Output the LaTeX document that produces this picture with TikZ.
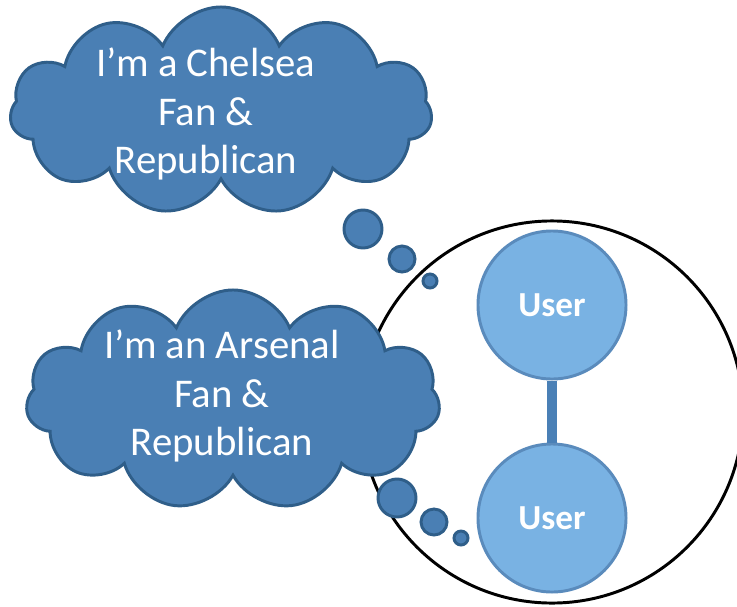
\documentclass[tikz,border=0pt]{standalone}
\usepackage{fontspec}
\setmainfont{Carlito}
\usetikzlibrary{shapes.symbols}
\definecolor{cloudfill}{HTML}{4A7FB4}
\definecolor{cloudline}{HTML}{2F5E89}
\definecolor{userfill}{HTML}{79B2E3}
\definecolor{userline}{HTML}{5A8BBC}
\definecolor{linkblue}{HTML}{4A80B6}

\begin{document}
\begin{tikzpicture}[
  x=0.025cm, y=-0.025cm,
  thought/.style={cloud, cloud puffs=11, cloud puff arc=135, aspect=2,
    draw=cloudline, fill=cloudfill, line width=2.1pt, inner sep=0pt},
  words/.style={text=white, align=center, inner sep=0pt,
    font=\fontsize{29}{34.5}\selectfont},
  bubble/.style={circle, draw=cloudline, fill=cloudfill, line width=2.1pt,
    inner sep=0pt},
  user/.style={circle, draw=userline, fill=userfill, line width=2.1pt,
    minimum size=3.7cm, inner sep=0pt, text=white,
    font=\fontsize{25}{30}\selectfont\bfseries},
  link/.style={draw=linkblue, line width=7pt}
]
\useasboundingbox (0,0) rectangle (737,606);

% group of users
\node[circle, draw=black, line width=2.1pt, minimum size=9.55cm, inner sep=0pt]
  (group) at (552,412) {};
\node[user] (u1) at (552,305) {User};
\node[user] (u2) at (552,518) {User};
\draw[link] (u1) -- (u2);

% thoughts
\node[thought, minimum width=10.55cm, minimum height=5.2cm] (chelsea) at (221,111) {};
\node[words] (chelseatext) at (206,114) {I’m a Chelsea\\Fan \&\\Republican};
\node[thought, minimum width=10.35cm, minimum height=5.5cm] (arsenal) at (233,400) {};
\node[words] (arsenaltext) at (222,396) {I’m an Arsenal\\Fan \&\\Republican};

% bubbles for the top thought
\node[bubble, minimum size=0.95cm] (b1) at (363,229) {};
\node[bubble, minimum size=0.65cm] (b2) at (402,259) {};
\node[bubble, minimum size=0.35cm] (b3) at (430,281) {};

% bubbles for the lower thought
\node[bubble, minimum size=0.95cm] (b4) at (397,498) {};
\node[bubble, minimum size=0.65cm] (b5) at (434,522) {};
\node[bubble, minimum size=0.35cm] (b6) at (461,538) {};

\end{tikzpicture}
\end{document}
